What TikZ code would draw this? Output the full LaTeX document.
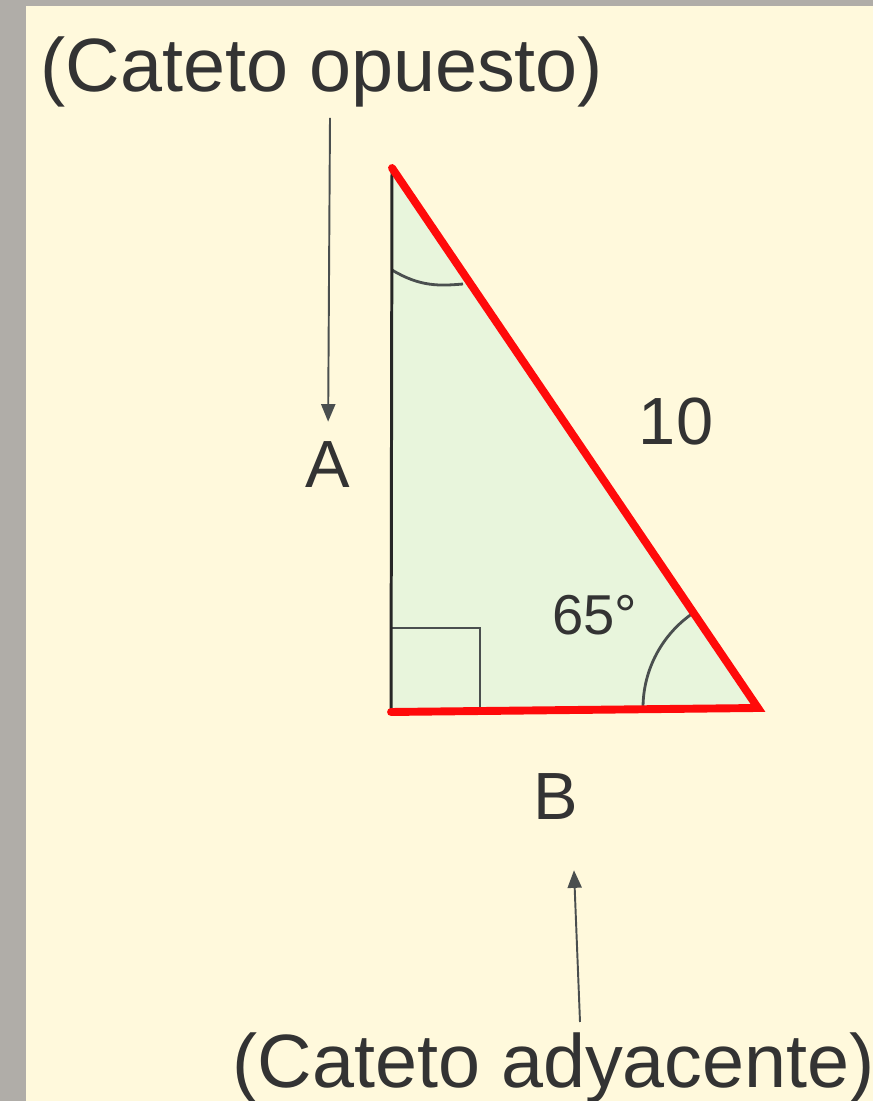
\documentclass[tikz,border=0pt]{standalone}
\usepackage{fontspec}
\setmainfont{Liberation Sans}
\usepackage{xcolor}
\usetikzlibrary{arrows.meta,positioning,calc}
\definecolor{frame}{HTML}{B0ADA8}
\definecolor{paper}{HTML}{FFF9DC}
\definecolor{leaf}{HTML}{E8F5DC}
\definecolor{ink}{HTML}{333333}
\definecolor{pencil}{HTML}{4A4F4F}
\definecolor{hot}{HTML}{FF0A0A}
\tikzset{
  caption/.style={font=\fontsize{43}{50}\selectfont,text=ink,inner sep=0pt},
  vlbl/.style={font=\fontsize{38}{44}\selectfont,text=ink,inner sep=0pt},
  anglbl/.style={font=\fontsize{32}{36}\selectfont,text=ink,inner sep=0pt},
  leg/.style={line width=1.7pt,draw=black!85},
  redleg/.style={line width=4.5pt,draw=hot,line join=miter,line cap=round},
  anglemark/.style={line width=1.6pt,draw=pencil},
  pointer/.style={-{Triangle[length=10pt,width=8pt]},line width=1.1pt,draw=pencil},
}

\begin{document}
\begin{tikzpicture}[x=0.02cm,y=0.02cm]
    % frame and paper
    \fill[frame] (0,0) rectangle (873,1101);
    \fill[paper] (26,0) rectangle (873,1095);
    \useasboundingbox (0,0) rectangle (873,1101);
    % triangle
    \coordinate (top) at (392,933);
    \coordinate (corner) at (391,389);
    \coordinate (right) at (758,393);
    \fill[leaf] (top) -- (corner) -- (right) -- cycle;
    \draw[anglemark] (391,473) -- (480,473) -- (480,389);
    \draw[anglemark] (392,831) .. controls (420,814) and (440,815) .. (463,817);
    \draw[anglemark] ([shift={(-115,0)}]right) arc[start angle=180,end angle=124,radius=2.3cm];
    \draw[leg] (top) -- (corner);
    \draw[redleg] (corner) -- (right) -- (top);
    % labels
    \node[caption,anchor=base west] (opp) at (40,1009) {(Cateto opuesto)};
    \node[caption,anchor=base west] (adj) at (232,13) {(Cateto adyacente)};
    \node[vlbl,anchor=base] (A) at (328,613) {A};
    \node[vlbl,anchor=base] (B) at (556,281) {B};
    \node[vlbl,anchor=base] (hyp) at (676,656) {10};
    \node[anglbl,anchor=base west] (ang) at (552,466) {65°};
    \coordinate (oppfoot) at (330,983);
    \coordinate (adjtop) at (580,79);
    \draw[pointer,shorten >=0.4cm] (oppfoot) -- (A.north);
    \draw[pointer,shorten >=1cm] (adjtop) -- ([xshift=0.32cm]B.south);
  \end{tikzpicture}
\end{document}
